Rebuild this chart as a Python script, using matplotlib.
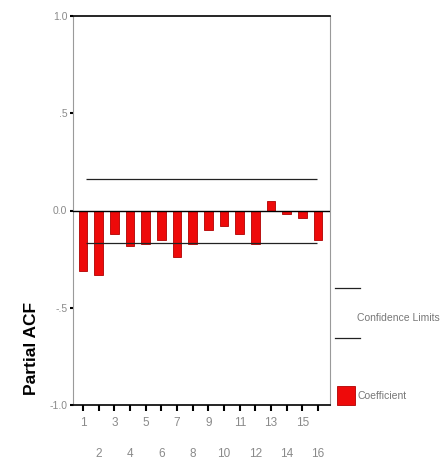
import matplotlib
matplotlib.use("Agg")
import matplotlib.pyplot as plt
from matplotlib.lines import Line2D
from matplotlib.patches import Rectangle

plt.rcParams['font.family'] = ['Liberation Sans Narrow', 'Liberation Sans', 'DejaVu Sans']

lags = list(range(1, 17))
pacf = [-0.31, -0.33, -0.12, -0.18, -0.17, -0.15, -0.24, -0.17,
        -0.10, -0.08, -0.12, -0.17, 0.05, -0.02, -0.04, -0.15]
upper_conf = 0.16
lower_conf = -0.168
ytick_vals = [1.0, 0.5, 0.0, -0.5, -1.0]
ytick_labels = ['1.0', '.5', '0.0', '-.5', '-1.0']

W, H = 441, 462
fig = plt.figure(figsize=(W / 100, H / 100), dpi=100)
ax = fig.add_axes([73 / W, 1 - 405 / H, (330 - 73) / W, (405 - 16) / H])

ax.bar(lags, pacf, width=0.55, color='#ee0a0a', edgecolor='#b00000', linewidth=0.6, zorder=2)
ax.axhline(0, color='black', lw=1.0, zorder=3)
ax.hlines([upper_conf, lower_conf], 1.2, 15.95, color='#222222', lw=0.9, zorder=3)

ax.set_xlim(0.36, 16.76)
ax.set_ylim(-1.0, 1.0)

for s in ['left', 'right']:
    ax.spines[s].set_color('#9a9a9a')
    ax.spines[s].set_linewidth(0.8)
for s in ['top', 'bottom']:
    ax.spines[s].set_color('black')
    ax.spines[s].set_linewidth(1.2)

ax.set_yticks(ytick_vals, labels=ytick_labels)
ax.tick_params(axis='y', length=2, width=1.5, color='black', pad=2,
               labelsize=7.5, labelcolor='#8a8a8a')

odd = [l for l in lags if l % 2 == 1]
even = [l for l in lags if l % 2 == 0]
ax.set_xticks(odd, labels=[str(l) for l in odd])
ax.set_xticks(even, labels=[str(l) for l in even], minor=True)
ax.tick_params(axis='x', which='major', length=4, width=1.5, color='black',
               pad=5, labelsize=8.5, labelcolor='#8a8a8a')
ax.tick_params(axis='x', which='minor', length=4, width=1.5, color='black',
               pad=27, labelsize=8.5, labelcolor='#8a8a8a')

fig.text(31 / W, 1 - 348 / H, 'Partial ACF', rotation=90, ha='center', va='center',
         fontsize=12.5, fontweight='bold', family=['Liberation Sans', 'DejaVu Sans'])

# legend (manual)
fig.add_artist(Line2D([335 / W, 360 / W], [1 - 288 / H, 1 - 288 / H], color='#222222', lw=0.9))
fig.add_artist(Line2D([335 / W, 360 / W], [1 - 338 / H, 1 - 338 / H], color='#222222', lw=0.9))
fig.text(357 / W, 1 - 318 / H, 'Confidence Limits', ha='left', va='center',
         fontsize=7.5, color='#777777')
fig.add_artist(Rectangle((337 / W, 1 - 405 / H), 18 / W, 19 / H, transform=fig.transFigure,
                         facecolor='#ee0a0a', edgecolor='#b00000', lw=0.6))
fig.text(357 / W, 1 - 396 / H, 'Coefficient', ha='left', va='center',
         fontsize=7.5, color='#777777')

fig.savefig('out.png', dpi=100)
